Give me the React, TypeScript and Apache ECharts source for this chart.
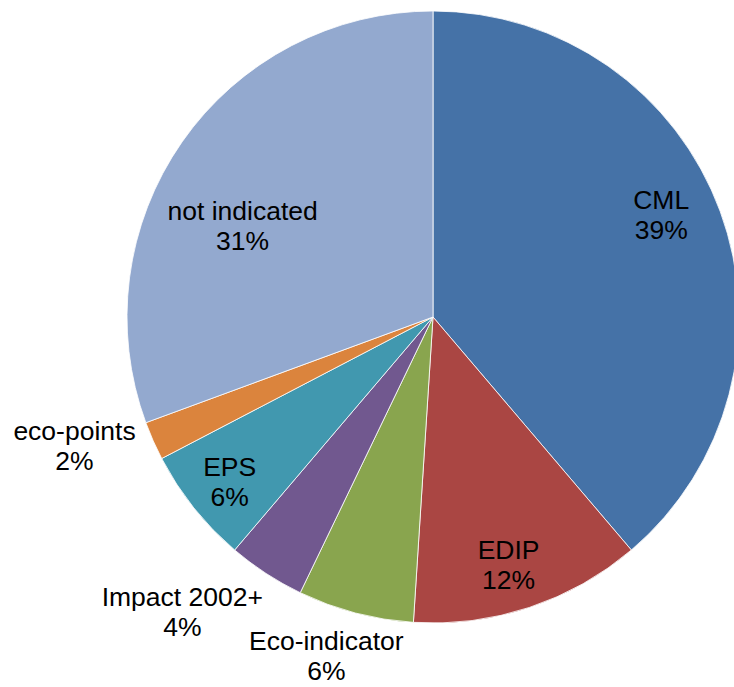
import React, { useEffect, useRef } from "react";
import * as echarts from "echarts";

const categories = ["CML", "EDIP", "Eco-indicator", "Impact 2002+", "EPS", "eco-points", "not indicated"];
const counts = [19, 6, 3, 2, 3, 1, 15];
const colors = ["#4572A7", "#AA4643", "#89A54E", "#71588F", "#4198AF", "#DB843D", "#93A9CF"];

// label placement: angle offset (deg) from slice middle, and distance as a fraction of radius
const labelAngleOffset = [-3.9, 1.4, 2.8, 7.3, -0.5, 4.1, -9.3];
const labelRadiusFactor = [0.817, 0.846, 1.16, 1.265, 0.856, 1.245, 0.69];

const CX = 433;
const CY = 317;
const R = 306;

export default function App() {
  const ref = useRef<HTMLDivElement>(null);
  useEffect(() => {
    if (!ref.current) return;
    const chart = echarts.init(ref.current, undefined, { renderer: "svg" });
    const total = counts.reduce((a, b) => a + b, 0);
    const midAngles: number[] = [];
    let acc = 0;
    counts.forEach((v) => {
      midAngles.push(((acc + v / 2) / total) * 360);
      acc += v;
    });
    chart.setOption({
      animation: false,
      backgroundColor: "#ffffff",
      series: [
        {
          type: "pie",
          center: [CX, CY],
          radius: R,
          startAngle: 90,
          clockwise: true,
          percentPrecision: 0,
          avoidLabelOverlap: false,
          itemStyle: { borderColor: "#ffffff", borderWidth: 0.8 },
          label: {
            show: true,
            position: "inside",
            formatter: "{b}\n{d}%",
            color: "#000000",
            fontFamily: "Liberation Sans, Arial, sans-serif",
            fontSize: 26.5,
            lineHeight: 30,
            align: "center",
          },
          labelLine: { show: false },
          labelLayout: (params: any) => {
            const i = params.dataIndex;
            const a = ((midAngles[i] + labelAngleOffset[i]) * Math.PI) / 180;
            const d = labelRadiusFactor[i] * R;
            return {
              x: CX + d * Math.sin(a),
              y: CY - d * Math.cos(a),
              align: "center",
              verticalAlign: "middle",
            };
          },
          data: categories.map((c, i) => ({
            name: c,
            value: counts[i],
            itemStyle: { color: colors[i] },
          })),
        },
      ],
    });
    return () => chart.dispose();
  }, []);
  return (
    <div
      ref={ref}
      style={{ position: "absolute", left: 0, top: 0, width: 734, height: 687 }}
    />
  );
}
